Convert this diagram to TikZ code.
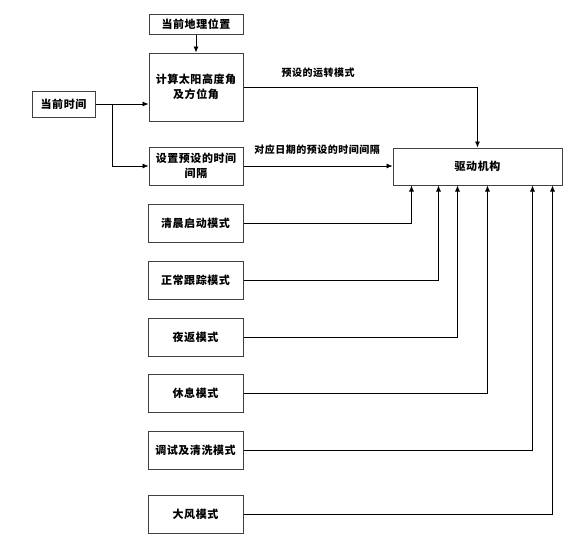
\documentclass[tikz,border=0pt]{standalone}
\usepackage{fontspec}
\usepackage{tikz}
\usetikzlibrary{arrows.meta}
\newfontfamily\cjk{Noto Sans CJK SC}[LetterSpace=5]

\begin{document}
\begin{tikzpicture}[x=1pt, y=-1pt,
  box/.style={draw=black!75, line width=1pt, fill=white, align=center, inner sep=0pt,
    font=\cjk\bfseries\fontsize{11}{15}\selectfont},
  link/.style={draw, line width=0.7pt, -{Latex[length=6pt,width=5pt]}},
  lbl/.style={inner sep=0pt, font=\cjk\bfseries\fontsize{10}{12}\selectfont}]
\useasboundingbox (0,0) rectangle (577,539);
% ---- inputs: position, time, and what is computed from them --------------------------------
\node[box, minimum width=94, minimum height=20] (geo) at (196,24) {当前地理位置};
\node[box, minimum width=94, minimum height=68] (calc) at (196,87) {计算太阳高度角\\及方位角};
\node[box, minimum width=63, minimum height=26] (now) at (63.5,104) {当前时间};
\node[box, minimum width=94, minimum height=38] (interval) at (196,166) {设置预设的时间\\间隔};
\node[box, minimum width=169, minimum height=37] (drive) at (477.5,166.5) {驱动机构};
% ---- the operating modes, one column on the left ------------------------------------------
\node[box, minimum width=95, minimum height=38] (dawn) at (195.5,223) {清晨启动模式};
\node[box, minimum width=95, minimum height=38] (track) at (195.5,280) {正常跟踪模式};
\node[box, minimum width=95, minimum height=38] (back) at (195.5,337) {夜返模式};
\node[box, minimum width=95, minimum height=38] (rest) at (195.5,393) {休息模式};
\node[box, minimum width=95, minimum height=38] (clean) at (195.5,450) {调试及清洗模式};
\node[box, minimum width=95, minimum height=38] (wind) at (195.5,514) {大风模式};
% ---- connectors -----------------------------------------------------------------------------
\coordinate (split) at (112,104);
\draw[link] (geo) -- (calc);
\draw[link] (now.east) -- (now.east -| calc.west);
\draw[link] (split) |- (interval.west);
\draw[link] (calc.east) -| (drive.north);
\draw[link] (interval.east) -- (interval.east -| drive.west);
\node[lbl] (lblmode) at (318,73) {预设的运转模式};
\node[lbl] (lblgap) at (317,150) {对应日期的预设的时间间隔};
\draw[link] (dawn.east) -| ([xshift=19pt]drive.south west);
\draw[link] (track.east) -| ([xshift=46pt]drive.south west);
\draw[link] (back.east) -| ([xshift=65pt]drive.south west);
\draw[link] (rest.east) -| ([xshift=95pt]drive.south west);
\draw[link] (clean.east) -| ([xshift=140pt]drive.south west);
\draw[link] (wind.east) -| ([xshift=160pt]drive.south west);
\end{tikzpicture}
\end{document}
